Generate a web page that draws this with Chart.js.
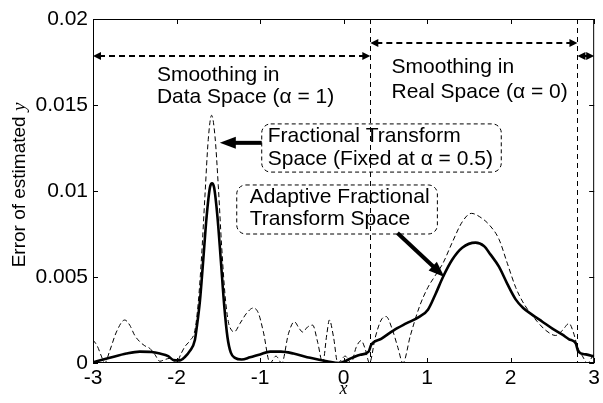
<!DOCTYPE html>
<html>
<head>
<meta charset="utf-8">
<script src="https://cdn.jsdelivr.net/npm/chart.js@4"></script>
<style>
  body { margin: 0; background: #fff; }
  canvas { display: block; }
</style>
</head>
<body>
<canvas id="chart" width="603" height="403"></canvas>
<script>
// Error curves
const adaptiveX = [-3.00, -2.80, -2.60, -2.44, -2.30, -2.20, -2.10, -2.04, -1.96, -1.90, -1.84, -1.78, -1.76, -1.72,
    -1.68, -1.64, -1.60, -1.575, -1.55, -1.51, -1.47, -1.43, -1.39, -1.35, -1.30, -1.22, -1.12, -1.00, -0.88,
    -0.75, -0.60, -0.40, -0.20, -0.05, 0.10, 0.20, 0.30, 0.33, 0.45, 0.60, 0.75, 0.91, 1.01, 1.10, 1.19, 1.30,
    1.42, 1.58, 1.68, 1.76, 1.86, 1.96, 2.06, 2.15, 2.26, 2.38, 2.50, 2.62, 2.70, 2.78, 2.81, 2.90, 3.00];
const adaptiveY = [0.00004, 0.0003, 0.00055, 0.00066, 0.00064, 0.00055, 0.0004, 0.00018, 0.00015, 0.00035, 0.0007,
    0.00134, 0.0020, 0.0036, 0.0060, 0.0085, 0.0102, 0.01045, 0.0102, 0.0085, 0.0060, 0.0034, 0.0015, 0.0006,
    0.0003, 0.0002, 0.00033, 0.0005, 0.00066, 0.00066, 0.00055, 0.0003, 0.0001, 0.0, 0.0003, 0.00048, 0.00066,
    0.00105, 0.0014, 0.0019, 0.0023, 0.0027, 0.0031, 0.0040, 0.0050, 0.0060, 0.0067, 0.0070, 0.0068, 0.0063,
    0.0056, 0.0046, 0.0037, 0.0032, 0.0028, 0.0024, 0.0020, 0.00165, 0.00138, 0.00114, 0.00066, 0.0005, 0.00037];

const fixedX = [-3.00, -2.95, -2.90, -2.86, -2.80, -2.72, -2.62, -2.56, -2.50, -2.44, -2.38, -2.32, -2.26, -2.20,
    -2.14, -2.08, -2.00, -1.95, -1.90, -1.84, -1.78, -1.74, -1.70, -1.66, -1.62, -1.58, -1.54, -1.50, -1.46,
    -1.42, -1.38, -1.34, -1.31, -1.24, -1.16, -1.08, -1.02, -0.96, -0.88, -0.81, -0.74, -0.66, -0.59, -0.53,
    -0.49, -0.43, -0.37, -0.31, -0.25, -0.20, -0.17, -0.12, -0.07, 0.02, 0.09, 0.15, 0.21, 0.26, 0.31, 0.38,
    0.45, 0.51, 0.58, 0.65, 0.71, 0.80, 0.91, 1.01, 1.10, 1.19, 1.30, 1.42, 1.53, 1.63, 1.75, 1.86, 1.96, 2.06,
    2.14, 2.22, 2.32, 2.42, 2.54, 2.62, 2.70, 2.75, 2.80, 2.86, 2.92, 2.98, 3.00];
const fixedY = [0.00134, 0.0010, 0.0004, 0.0, 0.0007, 0.0018, 0.0025, 0.0022, 0.0016, 0.00124, 0.0010, 0.00085,
    0.0005, 0.0001, 0.0002, 0.00027, 0.0, 0.0005, 0.00095, 0.0013, 0.0019, 0.0035, 0.0062, 0.0097, 0.0130,
    0.0144, 0.0132, 0.0103, 0.0068, 0.0040, 0.0024, 0.0019, 0.0018, 0.0023, 0.0029, 0.0032, 0.0029, 0.0018,
    0.0, 0.0004, 0.0, 0.0017, 0.0024, 0.0020, 0.0018, 0.0021, 0.0022, 0.0012, 0.0, 0.0017, 0.0025, 0.0015, 0.0,
    0.0004, 0.0, 0.0009, 0.0013, 0.0008, 0.0, 0.0015, 0.0025, 0.0027, 0.0020, 0.0009, 0.0, 0.0016, 0.0033,
    0.0044, 0.0051, 0.0058, 0.0070, 0.0082, 0.0087, 0.0085, 0.0080, 0.0072, 0.0058, 0.0044, 0.0036, 0.0030,
    0.0024, 0.0019, 0.0016, 0.0019, 0.0023, 0.0018, 0.00095, 0.0004, 0.0, 0.0004, 0.0006];

const xTicks = [-3, -2, -1, 0, 1, 2, 3];
const yTicks = [0, 0.005, 0.01, 0.015, 0.02];

// Region borders (alpha switches)
const splitX = [0.32, 2.80];

const SANS = '"Liberation Sans", Arial, sans-serif';
const SERIF = '"Liberation Serif", "Times New Roman", serif';

const Figure = {
    toPoints: (xs, ys) => xs.map((x, i) => ({ x: x, y: ys[i] })),

    arrowHead: (ctx, x0, y0, x1, y1, len, half) => {
        const a = Math.atan2(y1 - y0, x1 - x0);
        ctx.beginPath();
        ctx.moveTo(x1, y1);
        ctx.lineTo(x1 - len * Math.cos(a) + half * Math.sin(a), y1 - len * Math.sin(a) - half * Math.cos(a));
        ctx.lineTo(x1 - len * Math.cos(a) - half * Math.sin(a), y1 - len * Math.sin(a) + half * Math.cos(a));
        ctx.closePath();
        ctx.fill();
    },

    // dashed double arrow along a constant y
    spanArrow: (ctx, xa, xb, y) => {
        ctx.save();
        ctx.lineWidth = 2;
        ctx.setLineDash([6, 4]);
        ctx.beginPath();
        ctx.moveTo(xa + 6, y);
        ctx.lineTo(xb - 6, y);
        ctx.stroke();
        ctx.setLineDash([]);
        const head = Math.min(8, (xb - xa) / 2);
        Figure.arrowHead(ctx, xb, y, xa, y, head, 4);
        Figure.arrowHead(ctx, xa, y, xb, y, head, 4);
        ctx.restore();
    },

    box: (ctx, l, t, r, b) => {
        ctx.save();
        ctx.lineWidth = 1;
        ctx.setLineDash([4, 3]);
        ctx.beginPath();
        ctx.roundRect(l, t, r - l, b - t, 9);
        ctx.stroke();
        ctx.restore();
    },

    thickArrow: (ctx, x0, y0, x1, y1) => {
        const a = Math.atan2(y1 - y0, x1 - x0);
        ctx.save();
        ctx.lineWidth = 4;
        ctx.beginPath();
        ctx.moveTo(x0, y0);
        ctx.lineTo(x1 - 12 * Math.cos(a), y1 - 12 * Math.sin(a));
        ctx.stroke();
        Figure.arrowHead(ctx, x0, y0, x1, y1, 16, 6);
        ctx.restore();
    },

    decorations: {
        id: 'decorations',
        beforeDatasetsDraw: (chart) => {
            const ctx = chart.ctx;
            const area = chart.chartArea;
            const xs = chart.scales.x;
            ctx.save();
            ctx.strokeStyle = '#000';
            ctx.lineWidth = 1;
            ctx.setLineDash([5, 4]);
            splitX.forEach(v => {
                const px = Math.round(xs.getPixelForValue(v)) + 0.5;
                ctx.beginPath();
                ctx.moveTo(px, area.top);
                ctx.lineTo(px, area.bottom);
                ctx.stroke();
            });
            ctx.restore();
        },
        afterDatasetsDraw: (chart) => {
            const ctx = chart.ctx;
            const area = chart.chartArea;
            const xs = chart.scales.x;
            const ys = chart.scales.y;
            const X = v => xs.getPixelForValue(v);
            const Y = v => ys.getPixelForValue(v);

            ctx.save();
            ctx.strokeStyle = '#000';
            ctx.fillStyle = '#000';

            // frame and inward ticks (all four sides)
            ctx.lineWidth = 1;
            ctx.strokeRect(area.left + 0.5, area.top + 0.5, area.right - area.left - 1, area.bottom - area.top - 1);
            ctx.beginPath();
            xTicks.forEach(v => {
                const px = Math.round(X(v)) + 0.5;
                ctx.moveTo(px, area.bottom); ctx.lineTo(px, area.bottom - 5);
                ctx.moveTo(px, area.top); ctx.lineTo(px, area.top + 5);
            });
            yTicks.forEach(v => {
                const py = Math.round(Y(v)) + 0.5;
                ctx.moveTo(area.left, py); ctx.lineTo(area.left + 5, py);
                ctx.moveTo(area.right, py); ctx.lineTo(area.right - 5, py);
            });
            ctx.stroke();

            // region spans at the top
            Figure.spanArrow(ctx, area.left, X(splitX[0]), Y(0.01785));
            Figure.spanArrow(ctx, X(splitX[0]), X(splitX[1]), Y(0.0186));
            Figure.spanArrow(ctx, X(splitX[1]), area.right, Y(0.01785));

            ctx.font = '21px ' + SANS;
            ctx.textAlign = 'left';
            ctx.textBaseline = 'alphabetic';
            ctx.fillText('Smoothing in', X(-2.235), Y(0.0164));
            ctx.fillText('Data Space (\u03b1 = 1)', X(-2.235), Y(0.01512));
            ctx.fillText('Smoothing in', X(0.574), Y(0.01686));
            ctx.fillText('Real Space (\u03b1 = 0)', X(0.574), Y(0.0154));

            // fixed alpha label
            Figure.box(ctx, X(-0.98), Y(0.0139), X(1.888), Y(0.0111));
            ctx.fillText('Fractional Transform', X(-0.908), Y(0.01285));
            ctx.fillText('Space (Fixed at \u03b1 = 0.5)', X(-0.908), Y(0.01151));
            Figure.thickArrow(ctx, X(-0.98), Y(0.0128), X(-1.482), Y(0.0128));

            // adaptive label
            Figure.box(ctx, X(-1.279), Y(0.01035), X(1.123), Y(0.0075));
            ctx.fillText('Adaptive Fractional', X(-1.123), Y(0.0093));
            ctx.fillText('Transform Space', X(-1.123), Y(0.00802));
            Figure.thickArrow(ctx, X(0.645), Y(0.00756), X(1.207), Y(0.0050));

            // axis titles
            ctx.textAlign = 'center';
            ctx.font = 'italic 18px ' + SERIF;
            ctx.fillText('x', (area.left + area.right) / 2, 394);

            ctx.translate(25, 185);
            ctx.rotate(-Math.PI / 2);
            const part1 = 'Error of estimated ';
            ctx.font = '19px ' + SANS;
            const w1 = ctx.measureText(part1).width;
            ctx.font = 'italic 19px ' + SERIF;
            const w2 = ctx.measureText('y').width;
            ctx.textAlign = 'left';
            ctx.font = '19px ' + SANS;
            ctx.fillText(part1, -(w1 + w2) / 2, 0);
            ctx.font = 'italic 19px ' + SERIF;
            ctx.fillText('y', -(w1 + w2) / 2 + w1, 0);
            ctx.restore();
        }
    },

    create: (ctx) => {
        const config = {
            type: 'line',
            data: {
                datasets: [{
                    label: 'Fixed alpha = 0.5',
                    data: Figure.toPoints(fixedX, fixedY),
                    borderColor: '#000',
                    borderWidth: 1,
                    borderDash: [5, 3],
                    pointRadius: 0,
                    cubicInterpolationMode: 'monotone',
                    fill: false
                }, {
                    label: 'Adaptive',
                    data: Figure.toPoints(adaptiveX, adaptiveY),
                    borderColor: '#000',
                    borderWidth: 2.6,
                    pointRadius: 0,
                    cubicInterpolationMode: 'monotone',
                    fill: false
                }]
            },
            options: {
                responsive: false,
                animation: false,
                events: [],
                layout: { padding: { top: 19, right: 8, left: 0, bottom: 0 } },
                plugins: {
                    legend: { display: false },
                    tooltip: { enabled: false }
                },
                scales: {
                    x: {
                        type: 'linear',
                        min: -3,
                        max: 3,
                        afterFit: (scale) => { scale.height = 40; },
                        afterBuildTicks: (scale) => { scale.ticks = xTicks.map(v => ({ value: v })); },
                        grid: { display: false, drawTicks: false },
                        border: { display: false },
                        ticks: {
                            color: '#000',
                            padding: 3,
                            maxRotation: 0,
                            font: { family: SANS, size: 21 },
                            callback: (value) => String(value)
                        }
                    },
                    y: {
                        type: 'linear',
                        min: 0,
                        max: 0.02,
                        afterFit: (scale) => { scale.width = 93; },
                        afterBuildTicks: (scale) => { scale.ticks = yTicks.map(v => ({ value: v })); },
                        grid: { display: false, drawTicks: false },
                        border: { display: false },
                        ticks: {
                            color: '#000',
                            padding: 5,
                            font: { family: SANS, size: 21 },
                            callback: (value) => String(parseFloat(value.toFixed(3)))
                        }
                    }
                }
            },
            plugins: [Figure.decorations]
        };
        return new Chart(ctx, config);
    }
};

Figure.create(document.getElementById('chart'));
</script>
</body>
</html>
